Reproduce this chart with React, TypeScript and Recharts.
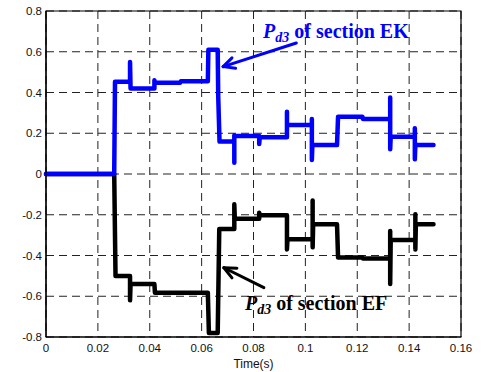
import React from 'react';
import {
  LineChart,
  Line,
  XAxis,
  YAxis,
  CartesianGrid,
  ReferenceLine,
  ReferenceDot,
  ReferenceArea,
} from 'recharts';

// Axis ticks
const xTicks = [0, 0.02, 0.04, 0.06, 0.08, 0.1, 0.12, 0.14, 0.16];
const yTicks = [-0.8, -0.6, -0.4, -0.2, 0, 0.2, 0.4, 0.6, 0.8];

// Pd3 of section EK (blue)
const ekTime = [
  0, 0.0263, 0.0266, 0.0324, 0.0324, 0.0326, 0.0418, 0.0418, 0.042, 0.0517,
  0.052, 0.0624, 0.0626, 0.0662, 0.0664, 0.0669, 0.0726, 0.0726, 0.0726, 0.073,
  0.0822, 0.0822, 0.0824, 0.0929, 0.0929, 0.0929, 0.0931, 0.1025, 0.1025, 0.1025,
  0.1027, 0.1122, 0.1126, 0.122, 0.1222, 0.1327, 0.1327, 0.1327, 0.1329, 0.1422,
  0.1422, 0.1422, 0.1424, 0.1494,
];
const ekPd3 = [
  0, 0, 0.453, 0.453, 0.55, 0.42, 0.42, 0.46, 0.448, 0.448,
  0.455, 0.455, 0.61, 0.61, 0.38, 0.159, 0.159, 0.055, 0.19, 0.186,
  0.186, 0.147, 0.18, 0.18, 0.305, 0.24, 0.24, 0.24, 0.27, 0.069,
  0.142, 0.142, 0.281, 0.281, 0.27, 0.27, 0.376, 0.121, 0.183, 0.183,
  0.224, 0.072, 0.142, 0.142,
];

// Pd3 of section EF (black)
const efTime = [
  0, 0.0263, 0.0268, 0.0324, 0.0324, 0.0326, 0.0418, 0.042, 0.0624, 0.0628,
  0.0662, 0.0668, 0.0726, 0.0726, 0.0728, 0.0822, 0.0822, 0.0824, 0.0929, 0.0929,
  0.0931, 0.1028, 0.1028, 0.1028, 0.103, 0.1122, 0.1126, 0.122, 0.1222, 0.1327,
  0.1327, 0.1327, 0.1329, 0.1424, 0.1424, 0.1424, 0.1426, 0.1494,
];
const efPd3 = [
  0, 0, -0.5, -0.5, -0.62, -0.54, -0.54, -0.583, -0.583, -0.78,
  -0.78, -0.27, -0.27, -0.149, -0.22, -0.22, -0.19, -0.203, -0.203, -0.37,
  -0.32, -0.32, -0.13, -0.36, -0.247, -0.247, -0.41, -0.41, -0.415, -0.415,
  -0.28, -0.54, -0.324, -0.324, -0.198, -0.37, -0.247, -0.247,
];

// Annotation anchors (time, value)
const ekLabelAt = { t: 0.0837, v: 0.669 };
const efLabelAt = { t: 0.0767, v: -0.667 };
const ekArrow = {
  tail: { t: 0.0965, v: 0.643 },
  tip: { t: 0.0683, v: 0.527 },
  wings: [
    { t: 0.0717, v: 0.57 },
    { t: 0.0731, v: 0.519 },
  ],
};
const efArrow = {
  tail: { t: 0.084, v: -0.558 },
  tip: { t: 0.0686, v: -0.46 },
  wings: [
    { t: 0.0736, v: -0.462 },
    { t: 0.0717, v: -0.51 },
  ],
};

const ekData = ekTime.map((t, i) => ({ t, v: ekPd3[i] }));
const efData = efTime.map((t, i) => ({ t, v: efPd3[i] }));

const BLUE = '#0000ff';
const BLACK = '#000000';

const fmt = (v: number) => {
  const s = String(Number(v.toFixed(2)));
  return s === '-0' ? '0' : s;
};

const tickStyle = { fontFamily: 'Liberation Sans, Arial, sans-serif', fontSize: 11.5, fill: '#111' };

const makeLabel = (color: string, tail: string) => (props: any) => (
  <text
    x={props.cx}
    y={props.cy}
    fill={color}
    fontFamily="Liberation Serif, 'Times New Roman', serif"
    fontWeight="bold"
    fontSize={20}
  >
    <tspan fontStyle="italic">P</tspan>
    <tspan fontStyle="italic" fontSize={14} dy={4}>d3</tspan>
    <tspan dy={-4}>{tail}</tspan>
  </text>
);

const arrowSegments = (a: typeof ekArrow) => [
  [a.tail, a.tip],
  [a.wings[0], a.tip],
  [a.wings[1], a.tip],
];

export default function App() {
  return (
    <div style={{ position: 'absolute', left: 0, top: 0 }}>
      <LineChart
        width={482}
        height={372}
        margin={{ top: 11, right: 21, left: 0, bottom: 0 }}
        style={{ background: '#fff' }}
      >
        <CartesianGrid
          stroke="#222"
          strokeWidth={1}
          strokeDasharray="8 5"
          horizontalValues={yTicks}
          verticalValues={xTicks}
        />
        <XAxis
          dataKey="t"
          type="number"
          domain={[0, 0.16]}
          ticks={xTicks}
          tickFormatter={fmt}
          allowDuplicatedCategory
          height={35}
          tickLine={false}
          tickSize={4}
          tickMargin={3}
          axisLine={{ stroke: '#000', strokeWidth: 1.2 }}
          tick={tickStyle}
          label={{
            value: 'Time(s)',
            position: 'insideBottom',
            offset: 4,
            style: { fontFamily: 'Liberation Sans, Arial, sans-serif', fontSize: 12, fill: '#111' },
          }}
        />
        <YAxis
          type="number"
          domain={[-0.8, 0.8]}
          ticks={yTicks}
          tickFormatter={fmt}
          width={46}
          tickLine={false}
          tickSize={2}
          tickMargin={2}
          axisLine={{ stroke: '#000', strokeWidth: 1.2 }}
          tick={tickStyle}
        />
        <ReferenceArea
          x1={0}
          x2={0.16}
          y1={-0.8}
          y2={0.8}
          fill="none"
          fillOpacity={0}
          stroke="#000"
          strokeWidth={1.2}
        />
        <Line
          data={efData}
          dataKey="v"
          type="linear"
          stroke={BLACK}
          strokeWidth={4.5}
          strokeLinejoin="round"
          strokeLinecap="round"
          dot={false}
          activeDot={false}
          isAnimationActive={false}
        />
        <Line
          data={ekData}
          dataKey="v"
          type="linear"
          stroke={BLUE}
          strokeWidth={4.5}
          strokeLinejoin="round"
          strokeLinecap="round"
          dot={false}
          activeDot={false}
          isAnimationActive={false}
        />
        {arrowSegments(ekArrow).map((seg, i) => (
          <ReferenceLine
            key={`ek-${i}`}
            segment={[
              { x: seg[0].t, y: seg[0].v },
              { x: seg[1].t, y: seg[1].v },
            ]}
            stroke={BLUE}
            strokeWidth={3}
            strokeLinecap="round"
          />
        ))}
        {arrowSegments(efArrow).map((seg, i) => (
          <ReferenceLine
            key={`ef-${i}`}
            segment={[
              { x: seg[0].t, y: seg[0].v },
              { x: seg[1].t, y: seg[1].v },
            ]}
            stroke={BLACK}
            strokeWidth={3}
            strokeLinecap="round"
          />
        ))}
        <ReferenceDot
          x={ekLabelAt.t}
          y={ekLabelAt.v}
          r={0}
          shape={makeLabel(BLUE, ' of section EK')}
        />
        <ReferenceDot
          x={efLabelAt.t}
          y={efLabelAt.v}
          r={0}
          shape={makeLabel(BLACK, ' of section EF')}
        />
      </LineChart>
    </div>
  );
}
